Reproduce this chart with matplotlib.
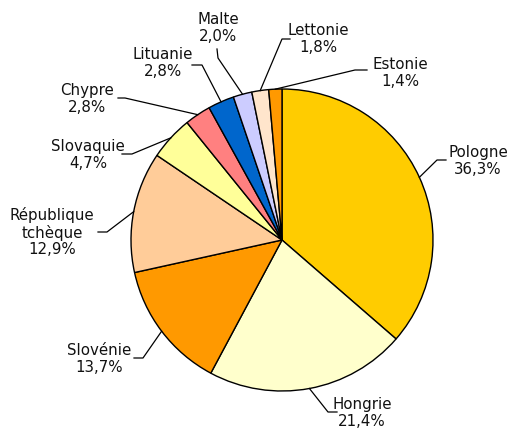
import matplotlib
matplotlib.use("Agg")
import matplotlib.pyplot as plt
import numpy as np

countries = ["Pologne", "Hongrie", "Slovénie", "République\ntchèque", "Slovaquie",
             "Chypre", "Lituanie", "Malte", "Lettonie", "Estonie"]
values = [36.3, 21.4, 13.7, 12.9, 4.7, 2.8, 2.8, 2.0, 1.8, 1.4]
colors = ["#FFCC00", "#FFFFCC", "#FF9900", "#FFCC99", "#FFFF99",
          "#FF8080", "#0066CC", "#CCCCFF", "#FFE5CC", "#FF9900"]

# layout (pixel coords): leader elbow points, leader end, text centre
elbows = [(437, 160), (328, 412), (143, 358), (107, 232), (132, 154),
          (125, 98), (202, 65), (218, 58), (282, 39), (355, 70)]
ends = [(446, 160), (337, 412), (134, 358), (98, 232), (122, 154),
        (118, 98), (192, 65), (217, 49), (290, 39), (367, 70)]
texts = [(478, 161), (362, 413), (99, 359), (52, 232), (88, 155),
         (87, 99), (163, 63), (218, 28), (318, 39), (400, 73)]

cx, cy, r = 282, 240, 151

fig = plt.figure(figsize=(5.1, 4.3), dpi=100)
ax = fig.add_axes([0, 0, 1, 1])

ax.pie(values, colors=colors, startangle=-90, counterclock=True,
       center=(cx, cy), radius=r, normalize=True,
       wedgeprops=dict(edgecolor="black", linewidth=1.0))
ax.set_aspect("auto")
ax.set_xlim(0, 510)
ax.set_ylim(430, 0)
ax.axis("off")

total = sum(values)
cum = 0
for i, v in enumerate(values):
    mid = -90 + (cum + v / 2) / total * 360
    cum += v
    ax_x = cx + r * np.cos(np.radians(mid))
    ax_y = cy + r * np.sin(np.radians(mid))
    ex, ey = elbows[i]
    nx, ny = ends[i]
    ax.plot([ax_x, ex, nx], [ax_y, ey, ny], color="black", linewidth=0.9)
    label = f"{countries[i]}\n{v:.1f}%".replace(".", ",")
    ax.text(texts[i][0], texts[i][1], label, ha="center", va="center",
            fontsize=10.8, linespacing=1.15, color="#111111", family="DejaVu Sans")

fig.savefig("out.png", dpi=100)
